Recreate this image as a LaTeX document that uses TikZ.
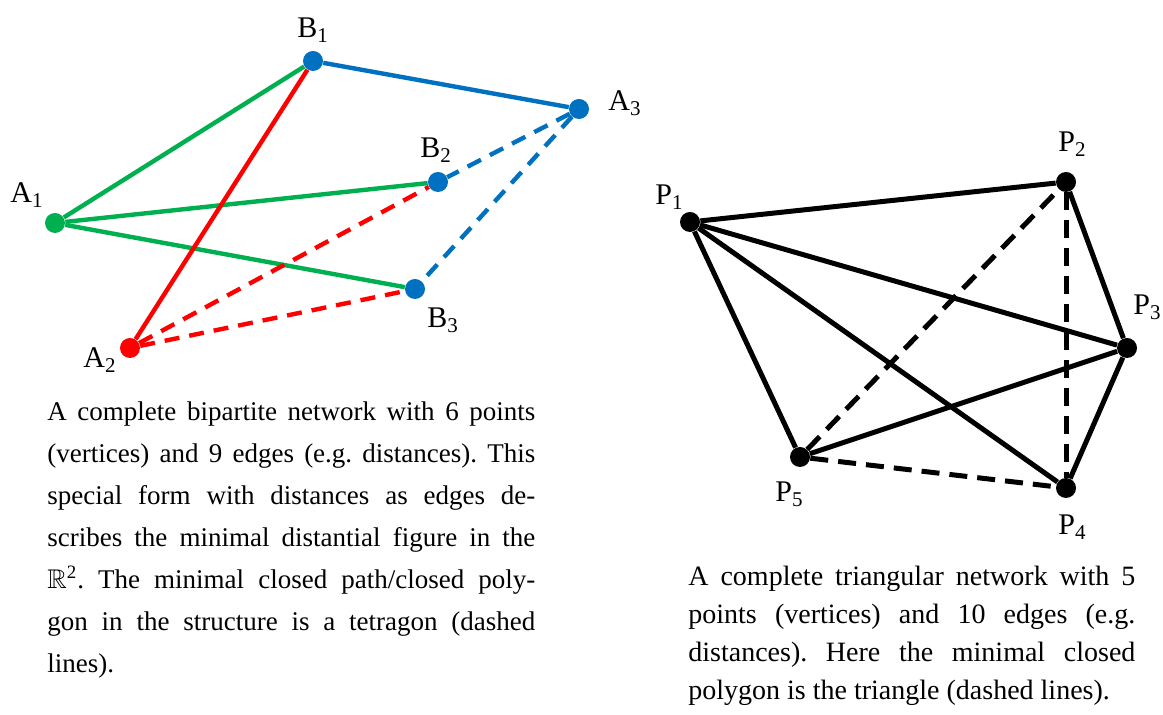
\documentclass[tikz,border=0pt]{standalone}
\usepackage{amssymb}
\usepackage{fontspec}
\setmainfont{Liberation Serif}
\usetikzlibrary{positioning}
\definecolor{netGreen}{RGB}{0,176,80}
\definecolor{netBlue}{RGB}{0,112,192}
\definecolor{netRed}{RGB}{255,0,0}
\tikzset{
    vtx/.style={circle, fill=#1, inner sep=0pt, minimum size=10pt},
    lbl/.style={anchor=base west, inner sep=0pt, font=\fontsize{15}{17}\selectfont},
    edgeLine/.style={line width=2.2pt, draw=#1},
    dashEdge/.style={line width=2.2pt, draw=#1, dash pattern=on 7.5pt off 5pt},
    capText/.style={anchor=base west, inner sep=0pt, align=justify, text width=#1,
        execute at begin node={\pretolerance=10000\relax\frenchspacing}}
}

\begin{document}
\begin{tikzpicture}[x=0.5pt, y=-0.5pt]
    \useasboundingbox (0,0) rectangle (1163,715);
    % bipartite network
    \node[vtx=netGreen] (A1) at (55,223) {};
    \node[vtx=netRed]   (A2) at (130,348) {};
    \node[vtx=netBlue]  (A3) at (579,109) {};
    \node[vtx=netBlue]  (B1) at (313,61) {};
    \node[vtx=netBlue]  (B2) at (438,182) {};
    \node[vtx=netBlue]  (B3) at (415,289) {};
    \draw[edgeLine=netGreen] (A1)--(B1);
    \draw[edgeLine=netGreen] (A1)--(B2);
    \draw[edgeLine=netGreen] (A1)--(B3);
    \draw[edgeLine=netRed] (A2)--(B1);
    \draw[dashEdge=netRed] (A2)--(B2);
    \draw[dashEdge=netRed] (A2)--(B3);
    \draw[edgeLine=netBlue] (A3)--(B1);
    \draw[dashEdge=netBlue] (A3)--(B2);
    \draw[dashEdge=netBlue] (A3)--(B3);
    \node[lbl] (lA1) at (10,203) {A\textsubscript{1}};
    \node[lbl] (lA2) at (83,368) {A\textsubscript{2}};
    \node[lbl] (lA3) at (608,111) {A\textsubscript{3}};
    \node[lbl] (lB1) at (297,38) {B\textsubscript{1}};
    \node[lbl] (lB2) at (420,158) {B\textsubscript{2}};
    \node[lbl] (lB3) at (427,328) {B\textsubscript{3}};
    \node[capText=244pt, font=\fontsize{13.5}{21}\selectfont] (capLeft) at (47,421)
        {A complete bipartite network with 6 points\linebreak
         (vertices) and 9 edges (e.g. distances). This\linebreak
         special form with distances as edges de-\linebreak
         scribes the minimal distantial figure in the\linebreak
         $\mathbb{R}$\textsuperscript{2}. The minimal closed path/closed poly-\linebreak
         gon in the structure is a tetragon (dashed\linebreak
         lines).};
    % triangular network
    \node[vtx=black] (P1) at (690,222) {};
    \node[vtx=black] (P2) at (1066,182) {};
    \node[vtx=black] (P3) at (1127,348) {};
    \node[vtx=black] (P4) at (1066,488) {};
    \node[vtx=black] (P5) at (800,457) {};
    \foreach \i/\j in {P1/P2, P1/P3, P1/P4, P1/P5, P2/P3, P3/P4, P3/P5}
        \draw[edgeLine=black, line width=2.5pt] (\i)--(\j);
    \foreach \i/\j in {P5/P2, P2/P4, P5/P4}
        \draw[dashEdge=black, line width=2.5pt, dash pattern=on 9pt off 5pt] (\i)--(\j);
    \node[lbl] (lP1) at (655,205) {P\textsubscript{1}};
    \node[lbl] (lP2) at (1058,152) {P\textsubscript{2}};
    \node[lbl] (lP3) at (1133,315) {P\textsubscript{3}};
    \node[lbl] (lP4) at (1058,535) {P\textsubscript{4}};
    \node[lbl] (lP5) at (775,502) {P\textsubscript{5}};
    \node[capText=223.5pt, font=\fontsize{14}{19}\selectfont] (capRight) at (688,586)
        {A complete triangular network with 5\linebreak
         points (vertices) and 10 edges (e.g.\linebreak
         distances). Here the minimal closed\linebreak
         polygon is the triangle (dashed lines).};
\end{tikzpicture}
\end{document}
